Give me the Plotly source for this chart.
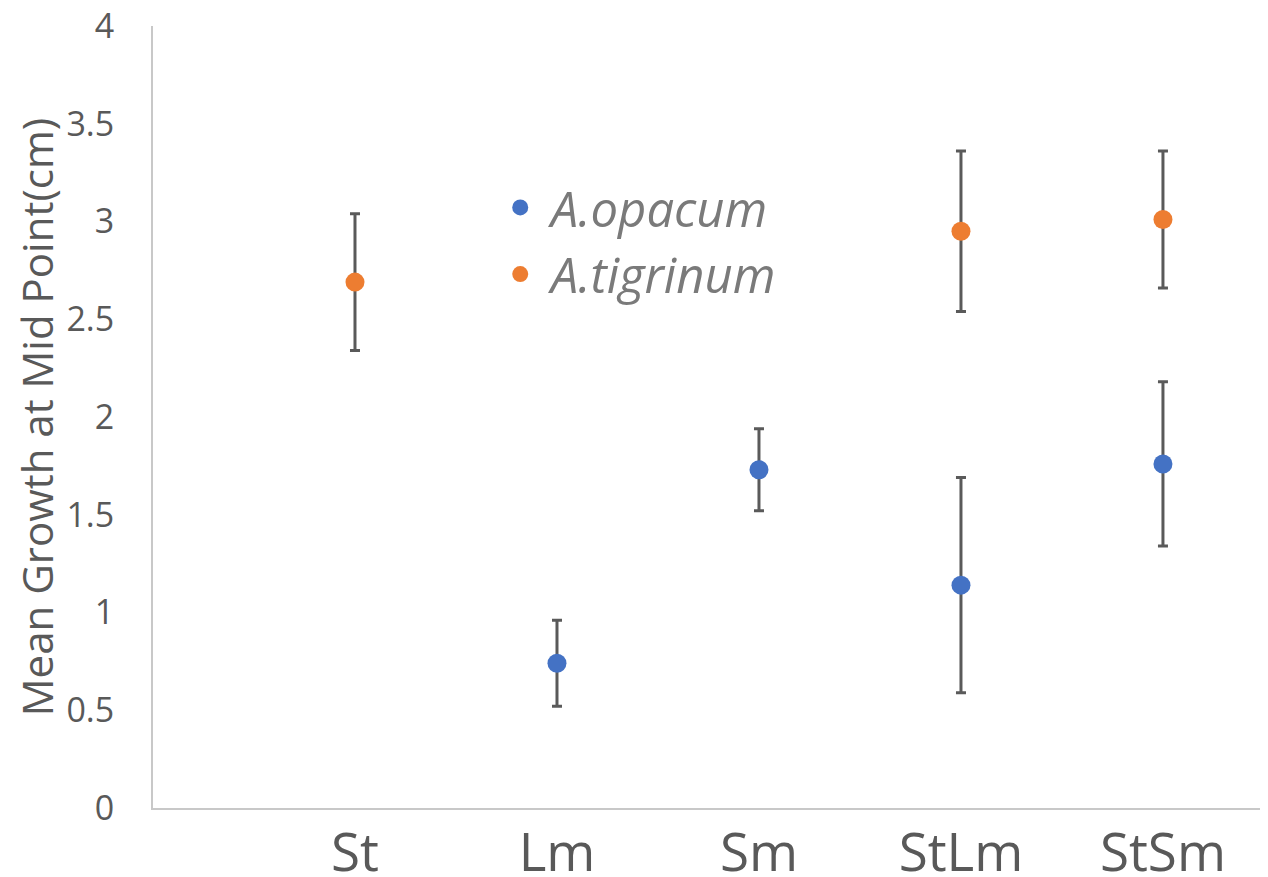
import plotly.graph_objects as go

categories = ["St", "Lm", "Sm", "StLm", "StSm"]
x_pos = [1, 2, 3, 4, 5]

opacum_x = [2, 3, 4, 5]
opacum_mean = [0.74, 1.73, 1.14, 1.76]
opacum_err = [0.22, 0.21, 0.55, 0.42]

tigrinum_x = [1, 4, 5]
tigrinum_mean = [2.69, 2.95, 3.01]
tigrinum_err = [0.35, 0.41, 0.35]

FONT = "Open Sans"
ERR_COLOR = "#5a5a5a"

fig = go.Figure()
fig.add_trace(go.Scatter(
    x=opacum_x, y=opacum_mean, mode="markers", name="A.opacum",
    marker=dict(color="#4472C4", size=19),
    error_y=dict(type="data", array=opacum_err, visible=True,
                 color=ERR_COLOR, thickness=3, width=5),
))
fig.add_trace(go.Scatter(
    x=tigrinum_x, y=tigrinum_mean, mode="markers", name="A.tigrinum",
    marker=dict(color="#ED7D31", size=19),
    error_y=dict(type="data", array=tigrinum_err, visible=True,
                 color=ERR_COLOR, thickness=3, width=5),
))

# page body has an 8px margin, so the figure is sized to fit the 1268x877 window
fig.update_layout(
    width=1260, height=869,
    margin=dict(l=145, r=0, t=18, b=69),
    paper_bgcolor="white", plot_bgcolor="white",
    font=dict(family=FONT, color="#595959"),
    showlegend=True,
    legend=dict(
        x=0.302, y=0.725, xanchor="left", yanchor="middle",
        bgcolor="rgba(0,0,0,0)",
        font=dict(family=FONT, size=49, color="#7a7a7a", style="italic"),
        itemsizing="trace", itemwidth=51, tracegroupgap=0,
    ),
    xaxis=dict(
        range=[0, 5.52], tickmode="array", tickvals=x_pos, ticktext=categories,
        showgrid=False, zeroline=False, showline=True, linecolor="#c8c8c8",
        linewidth=2, ticks="", tickfont=dict(size=53, color="#595959"),
        ticklabelstandoff=-3, ticklabeloverflow="allow", automargin=False,
    ),
    yaxis=dict(
        range=[0, 4], tickmode="array", tickvals=[0, 0.5, 1, 1.5, 2, 2.5, 3, 3.5, 4],
        ticktext=["0", "0.5", "1", "1.5", "2", "2.5", "3", "3.5", "4"],
        showgrid=False, zeroline=False, showline=True, linecolor="#c8c8c8",
        linewidth=2, ticks="", tickfont=dict(size=34, color="#595959"),
        ticklabelstandoff=30, ticklabeloverflow="allow", automargin=False,
        title=dict(text="Mean Growth at Mid Point(cm)", font=dict(size=42, color="#595959"),
                   standoff=14),
    ),
)

fig.write_html("out.html")
